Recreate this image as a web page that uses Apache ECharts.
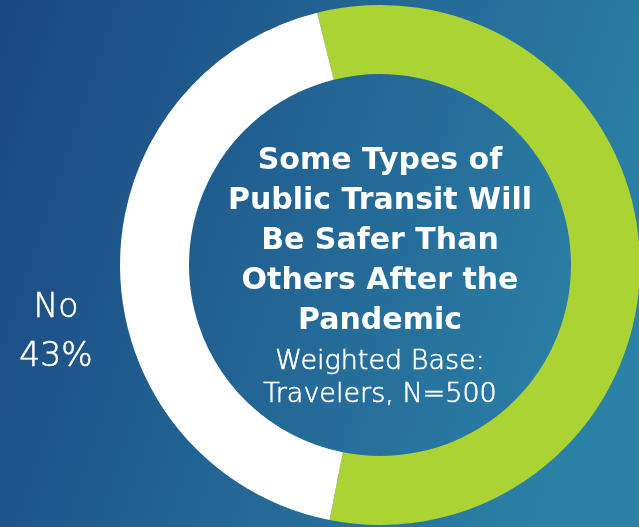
<!DOCTYPE html>
<html>
<head>
<meta charset="utf-8">
<style>
    html, body { margin: 0; padding: 0; }
    #chart { width: 639px; height: 527px; }
</style>
</head>
<body>
<div id="chart"></div>
<script src="https://cdn.jsdelivr.net/npm/echarts@6/dist/echarts.min.js"></script>
<script>
    // data
    var categories = ['Yes', 'No'];
    var shares = [57, 43];
    var sliceColors = ['#acd334', '#ffffff'];
    var titleLines = ['Some Types of', 'Public Transit Will', 'Be Safer Than', 'Others After the', 'Pandemic'];
    var baseLines = ['Weighted Base:', 'Travelers, N=500'];

    var cx = 380, cy = 265;
    var lightFont = '"DejaVu Sans", sans-serif';
    var chart = echarts.init(document.getElementById('chart'));

    var option = {
        backgroundColor: {
            type: 'linear', x: 0, y: 0, x2: 1, y2: 0.4,
            colorStops: [
                { offset: 0, color: '#1a4781' },
                { offset: 1, color: '#2b80a6' }
            ]
        },
        graphic: [
            {
                type: 'text',
                x: cx, y: 141,
                style: {
                    text: titleLines.join('\n'),
                    fill: '#ffffff',
                    font: 'bold 30px "DejaVu Sans"',
                    lineHeight: 40,
                    align: 'center',
                    verticalAlign: 'top'
                }
            },
            {
                type: 'text',
                x: cx, y: 345,
                style: {
                    text: baseLines.join('\n'),
                    fill: '#ffffff',
                    stroke: '#ffffff',
                    lineWidth: 0.6,
                    font: '200 27px ' + lightFont,
                    lineHeight: 33,
                    align: 'center',
                    verticalAlign: 'top'
                }
            }
        ],
        series: [{
            type: 'pie',
            center: [cx, cy],
            radius: [191, 260],
            startAngle: 104,
            clockwise: true,
            silent: true,
            label: {
                show: true,
                position: 'outside',
                overflow: 'none',
                formatter: function (p) { return p.name + '\n' + p.value + '%'; },
                color: '#ffffff',
                textBorderColor: '#ffffff',
                textBorderWidth: 0.6,
                fontFamily: lightFont,
                fontWeight: 200,
                fontSize: 33,
                lineHeight: 49,
                align: 'center'
            },
            labelLine: { show: false },
            labelLayout: function (params) {
                if (params.dataIndex === 1) {
                    return { x: 56, y: 333, align: 'center', verticalAlign: 'middle' };
                }
                return {};
            },
            data: categories.map(function (c, i) {
                return {
                    name: c,
                    value: shares[i],
                    itemStyle: { color: sliceColors[i] },
                    label: { show: i === 1 }
                };
            })
        }]
    };
    chart.setOption(option);
</script>
</body>
</html>
